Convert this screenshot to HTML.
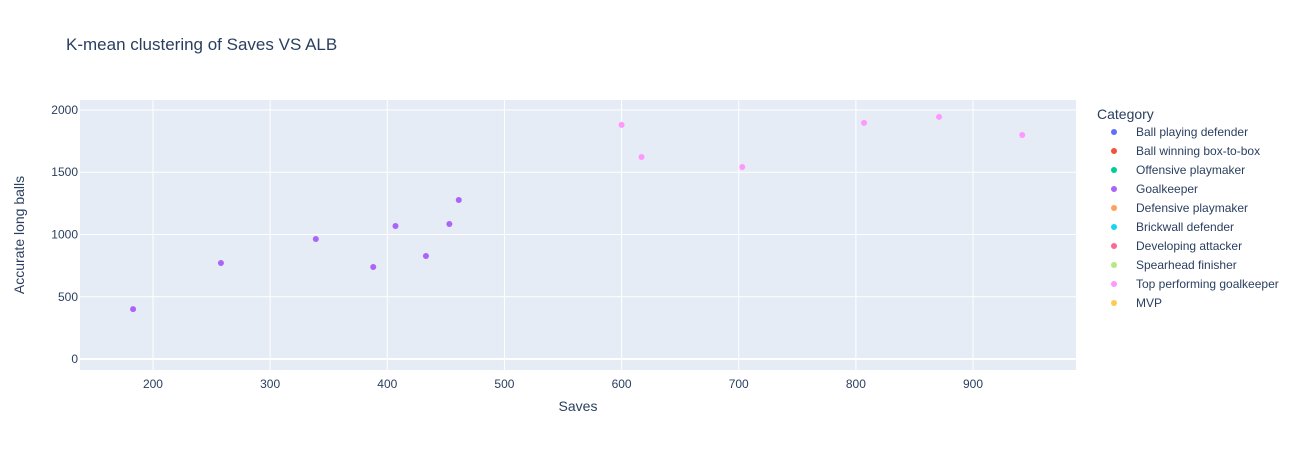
<!DOCTYPE html>
<html><head><meta charset="utf-8"><style>
body{margin:0;background:#fff;font-family:"Liberation Sans",Arial,sans-serif;}
svg text{font-family:"Liberation Sans",Arial,sans-serif;}
</style></head><body>
<svg id="chart" width="1316" height="450"></svg>
<script>
const categories=["Ball playing defender","Ball winning box-to-box","Offensive playmaker","Goalkeeper","Defensive playmaker","Brickwall defender","Developing attacker","Spearhead finisher","Top performing goalkeeper","MVP"];
const colors=["#636efa","#EF553B","#00cc96","#ab63fa","#FFA15A","#19d3f3","#FF6692","#B6E880","#FF97FF","#FECB52"];
const gkSaves=[183,258,339,388,407,433,453,461];
const gkALB=[401,771,964,739,1068,827,1084,1277];
const topSaves=[600,617,703,807,871,942];
const topALB=[1880,1622,1542,1896,1944,1799];
const xTicks=[200,300,400,500,600,700,800,900];
const yTicks=[0,500,1000,1500,2000];
const NS="http://www.w3.org/2000/svg";
const svg=document.getElementById('chart');
const L=80,R=1076,T=100,B=370,xmin=137.7,xmax=987.9,ymin=-88,ymax=2080;
const sx=v=>L+(v-xmin)/(xmax-xmin)*(R-L);
const sy=v=>B-(v-ymin)/(ymax-ymin)*(B-T);
function mk(tag,attrs,parent){const e=document.createElementNS(NS,tag);for(const k in attrs)e.setAttribute(k,attrs[k]);(parent||svg).appendChild(e);return e;}
const bg=mk('rect',{x:L,y:T,width:R-L,height:B-T,fill:'#e5ecf6'});


xTicks.forEach(t=>{
 const g=mk('line',{x1:sx(t),x2:sx(t),y1:T,y2:B,stroke:'#fff','stroke-width':1});
 
 
 const tx=mk('text',{x:sx(t),y:B+18,'text-anchor':'middle','font-size':12,fill:'#2a3f5f'});tx.textContent=t;
 
 
});
yTicks.forEach(t=>{
 const g=mk('line',{x1:L,x2:R,y1:sy(t),y2:sy(t),stroke:'#fff','stroke-width':t===0?2:1});
 
 
 const tx=mk('text',{x:L-2,y:sy(t)+4,'text-anchor':'end','font-size':12,fill:'#2a3f5f'});tx.textContent=t;
 
 
});
function pts(xs,ys,c,name){xs.forEach((x,i)=>{const p=mk('circle',{cx:sx(x),cy:sy(ys[i]),r:3,fill:c});
 
 });}
pts(gkSaves,gkALB,colors[3],'goalkeeper-point');
pts(topSaves,topALB,colors[8],'top-goalkeeper-point');
const title=mk('text',{x:66,y:50,'font-size':17,fill:'#2a3f5f'});title.textContent='K-mean clustering of Saves VS ALB';


const xt=mk('text',{x:(L+R)/2,y:411,'text-anchor':'middle','font-size':14,fill:'#2a3f5f'});xt.textContent='Saves';


const yt=mk('text',{x:24,y:(T+B)/2,'text-anchor':'middle','font-size':14,fill:'#2a3f5f',transform:`rotate(-90 24 ${(T+B)/2})`});yt.textContent='Accurate long balls';


const lt=mk('text',{x:1097,y:119,'font-size':14,fill:'#2a3f5f'});lt.textContent='Category';


categories.forEach((c,i)=>{const y=132+i*19;
 const m=mk('circle',{cx:1114,cy:y,r:3,fill:colors[i]});
 
 
 const t=mk('text',{x:1136,y:y+4,'font-size':12,fill:'#2a3f5f'});t.textContent=c;
 
 
});
</script>
</body></html>
